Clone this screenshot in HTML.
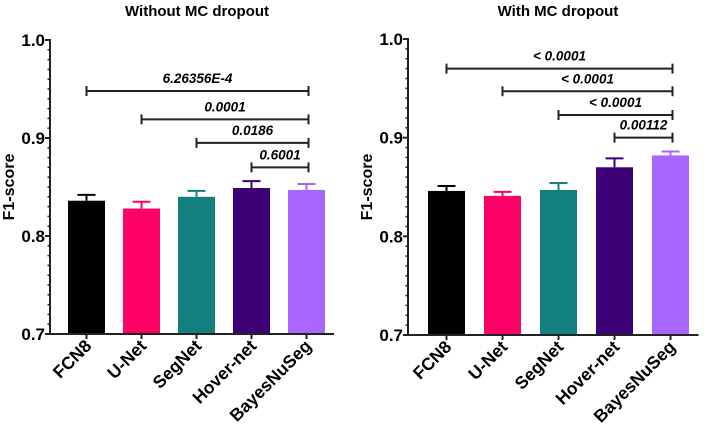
<!DOCTYPE html>
<html><head><meta charset="utf-8"><style>
body{margin:0;background:#fff}
svg{display:block;font-family:"Liberation Sans",Arial,sans-serif}
</style></head><body>
<svg id="c" width="709" height="426" viewBox="0 0 709 426"></svg>
<script>
const categories = ["FCN8","U-Net","SegNet","Hover-net","BayesNuSeg"];
const colors = ["#000000","#ff0066","#138080","#3d0075","#a866ff"];
const meansA = [0.836,0.828,0.840,0.849,0.847];
const errA = [0.006,0.007,0.006,0.007,0.006];
const meansB = [0.846,0.841,0.847,0.870,0.882];
const errB = [0.005,0.004,0.007,0.009,0.004];
const yTicks = [0.7,0.8,0.9,1.0];
const yTickLabels = ["0.7","0.8","0.9","1.0"];
const sigFromA = [0,1,2,3];
const sigLevelsA = [0.948,0.919,0.895,0.870];
const sigLabelsA = ["6.26356E-4","0.0001","0.0186","0.6001"];
const sigFromB = [0,1,2,3];
const sigLevelsB = [0.970,0.947,0.923,0.900];
const sigLabelsB = ["< 0.0001","< 0.0001","< 0.0001","0.00112"];

const NS="http://www.w3.org/2000/svg";
const svg=document.getElementById('c');
function mk(t,a,p){const e=document.createElementNS(NS,t);for(const k in a)e.setAttribute(k,a[k]);(p||svg).appendChild(e);return e;}

function panel(cfg){
  const g=mk('g',{});
  
  
  const y=v=>cfg.y0-(v-0.7)/0.3*(cfg.y0-cfg.y1);
  const x=i=>cfg.xStart+cfg.pitch*i+cfg.pitch/2;
  const t=mk('text',{x:cfg.titleX,y:16,'text-anchor':'middle','font-size':15,'font-weight':'bold'},g);
  t.textContent=cfg.title;
  
  
  cfg.means.forEach((m,i)=>{
    const bw=37;
    const e=cfg.err[i];
    const el=mk('line',{x1:x(i),x2:x(i),y1:y(m),y2:y(m+e),stroke:colors[i],'stroke-width':2},g);
    
    
    const cap=mk('line',{x1:x(i)-9,x2:x(i)+9,y1:y(m+e),y2:y(m+e),stroke:colors[i],'stroke-width':2},g);
    
    
    const r=mk('rect',{x:x(i)-bw/2,y:y(m),width:bw,height:y(0.7)-y(m),fill:colors[i]},g);
    
    
    mk('line',{x1:x(i),x2:x(i),y1:cfg.y0,y2:cfg.y0+5,stroke:'#222','stroke-width':2},g);
    const lb=mk('text',{transform:`translate(${x(i)+6},${cfg.y0+13}) rotate(-45)`,'text-anchor':'end','font-size':17.5,'font-weight':'bold'},g);
    lb.textContent=categories[i];
    
    
  });
  const ax=mk('line',{x1:cfg.ax,x2:cfg.ax,y1:y(1.0)-1,y2:cfg.y0+1,stroke:'#222','stroke-width':2},g);
  
  
  const bx=mk('line',{x1:cfg.ax,x2:cfg.xStart+cfg.pitch*5,y1:cfg.y0,y2:cfg.y0,stroke:'#222','stroke-width':2},g);
  
  
  for(let k=0;k<=30;k++){
    const v=0.7+k*0.01;
    mk('line',{x1:cfg.ax-(k%10==0?5:2.5),x2:cfg.ax,y1:y(v),y2:y(v),stroke:'#222','stroke-width':k%10==0?2:1.5},g);
  }
  yTicks.forEach((v,i)=>{
    const tl=mk('text',{x:cfg.ax-5,y:y(v)+6,'text-anchor':'end','font-size':17,'font-weight':'bold'},g);
    tl.textContent=yTickLabels[i];
    
    
  });
  const yt=mk('text',{transform:`translate(${cfg.ax-36},${(y(1)+cfg.y0)/2}) rotate(-90)`,'text-anchor':'middle','font-size':16,'font-weight':'bold'},g);
  yt.textContent='F1-score';
  
  
  cfg.sigFrom.forEach((f,i)=>{
    const yy=y(cfg.sigLevels[i]);
    const x1=x(f), x2=x(4)+2;
    const p=mk('path',{d:`M${x1},${yy-5}V${yy+5}M${x1},${yy}H${x2}M${x2},${yy-5}V${yy+5}`,stroke:'#222','stroke-width':2,fill:'none'},g);
    
    
    const s=mk('text',{x:(x1+x2)/2,y:yy-8,'text-anchor':'middle','font-size':13.5,'font-weight':'bold','font-style':'italic'},g);
    s.textContent=cfg.sigLabels[i];
    
    
  });
}
panel({name:'chart-without-mc-dropout',title:'Without MC dropout',titleX:197,ax:50,y0:334,y1:40,xStart:59,pitch:55,means:meansA,err:errA,sigFrom:sigFromA,sigLevels:sigLevelsA,sigLabels:sigLabelsA});
panel({name:'chart-with-mc-dropout',title:'With MC dropout',titleX:558,ax:408,y0:335,y1:39,xStart:418.5,pitch:56,means:meansB,err:errB,sigFrom:sigFromB,sigLevels:sigLevelsB,sigLabels:sigLabelsB});
</script>
</body></html>
